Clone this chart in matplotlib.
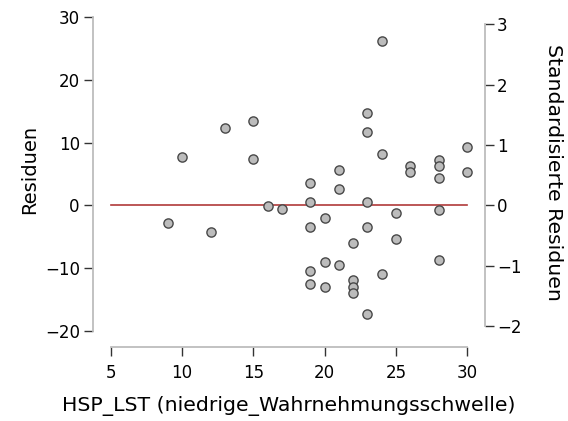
import matplotlib
matplotlib.use("Agg")
import matplotlib.pyplot as plt
import numpy as np

# Predictor values and residuals of the regression
hsp_lst = [9, 10, 12, 13, 15, 15, 16, 17,
           19, 19, 19, 19, 19,
           20, 20, 20,
           21, 21, 21,
           22, 22, 22, 22,
           23, 23, 23, 23, 23,
           24, 24, 24,
           25, 25,
           26, 26,
           28, 28, 28, 28, 28,
           30, 30]
residuen = [-2.8, 7.75, -4.2, 12.4, 13.4, 7.4, -0.1, -0.6,
            3.5, 0.5, -3.5, -10.5, -12.5,
            -2.0, -9.0, -13.0,
            5.6, 2.6, -9.5,
            -6.0, -11.9, -13.0, -14.0,
            14.7, 11.7, 0.6, -3.4, -17.4,
            26.25, 8.2, -10.9,
            -1.3, -5.4,
            6.3, 5.3,
            7.3, 6.3, 4.3, -0.75, -8.8,
            9.35, 5.3]

x_ticks = [5, 10, 15, 20, 25, 30]
y_ticks = [-20, -10, 0, 10, 20, 30]
std_ticks = [-2, -1, 0, 1, 2, 3]
resid_sd = 9.63  # residual standard deviation for the standardized scale

W, H = 568, 421
fig = plt.figure(figsize=(W / 100, H / 100), dpi=100)
ax_l, ax_r, ax_b, ax_t = 93, 485, 347, 14.8
ax = fig.add_axes([ax_l / W, (H - ax_b) / H, (ax_r - ax_l) / W, (ax_b - ax_t) / H])

spine_col = "#bdbdbd"
ylo, yhi = -22.6, 30.38
ax.set_xlim(3.76, 31.24)
ax.set_ylim(ylo, yhi)

ax.plot([5, 30], [0, 0], color="#b03a3a", lw=1.2, zorder=2)
ax.scatter(hsp_lst, residuen, s=44, facecolor="#bcbcbc", edgecolor="#484848",
           linewidths=1.0, zorder=3)

for side in ["top", "right"]:
    ax.spines[side].set_visible(False)
ax.spines["left"].set_bounds(-20, 30)
ax.spines["bottom"].set_bounds(5, 30)
for side in ["left", "bottom"]:
    ax.spines[side].set_color(spine_col)
    ax.spines[side].set_linewidth(1.3)

ax.set_xticks(x_ticks)
ax.set_yticks(y_ticks)
ax.set_yticklabels([str(v).replace("-", "\u2212") for v in y_ticks])
ax.tick_params(axis="both", colors="#333333", labelcolor="black", length=6.5,
               width=1.0, labelsize=12)
ax.tick_params(axis="y", pad=3)
ax.tick_params(axis="x", pad=6)

ax.set_xlabel("HSP_LST (niedrige_Wahrnehmungsschwelle)", fontsize=14.7, labelpad=10)
ax.set_ylabel("Residuen", fontsize=14, labelpad=4)
ax.yaxis.label.set_y(0.533)

ax2 = ax.twinx()
ax2.set_ylim(ylo / resid_sd, yhi / resid_sd)
for side in ["top", "left", "bottom"]:
    ax2.spines[side].set_visible(False)
ax2.spines["right"].set_bounds(-2, 3)
ax2.spines["right"].set_color(spine_col)
ax2.spines["right"].set_linewidth(1.3)
ax2.set_yticks(std_ticks)
ax2.set_yticklabels([str(v).replace("-", "\u2212") for v in std_ticks])
ax2.tick_params(axis="y", colors="#333333", labelcolor="black", length=6.5,
                width=1.0, labelsize=12, pad=2)
ax2.set_ylabel("Standardisierte Residuen", fontsize=14.7, rotation=270, labelpad=30)
ax2.yaxis.label.set_y(0.526)

fig.savefig("out.png", dpi=100)
